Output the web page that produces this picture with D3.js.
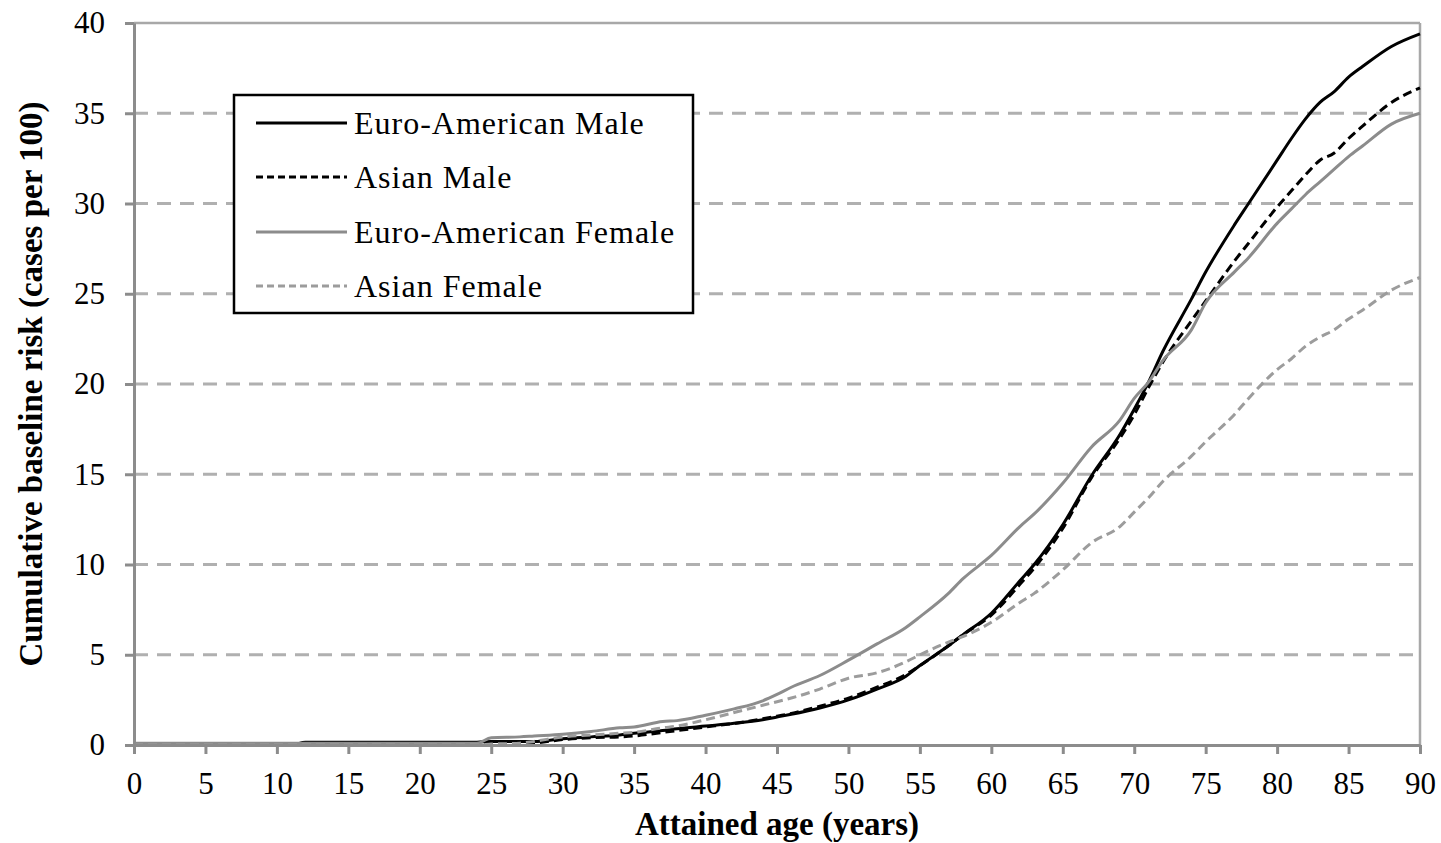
<!DOCTYPE html>
<html>
<head>
<meta charset="utf-8">
<script src="https://cdn.jsdelivr.net/npm/d3@7/dist/d3.min.js"></script>
<style>
  html, body { margin: 0; padding: 0; background: #fff; }
  svg { display: block; }
  text { font-family: "Liberation Serif", "Times New Roman", serif; fill: #000; }
</style>
</head>
<body>
<svg id="chart" width="1441" height="843"></svg>
<script>
// ---- Data ----
const ages = [0,5,10,11,12,15,20,24,25,27,28,30,32,34,35,37,38,40,42,44,45,46,48,50,52,54,55,57,58,60,62,63,65,67,69,70,71,72,74,75,77,78,80,81,82,83,84,85,86,88,90];

const euroAmericanMale = [0,0,0,0,0.15,0.15,0.15,0.15,0.2,0.2,0.2,0.35,0.45,0.55,0.65,0.8,0.9,1.05,1.2,1.4,1.55,1.7,2.05,2.5,3.1,3.8,4.4,5.5,6.1,7.3,9.1,10.0,12.2,14.9,17.2,18.6,20.1,21.8,24.7,26.2,28.8,30.0,32.4,33.6,34.7,35.6,36.2,37.0,37.6,38.7,39.4];

const asianMale = [0,0,0,0,0,0.05,0.05,0.05,0.05,0.05,0.1,0.3,0.4,0.45,0.5,0.7,0.8,1.0,1.2,1.45,1.6,1.75,2.15,2.6,3.2,3.9,4.4,5.5,6.1,7.2,8.9,9.8,12.0,14.8,17.0,18.3,19.8,21.2,23.5,24.6,26.8,27.8,29.8,30.7,31.6,32.4,32.8,33.6,34.3,35.6,36.4];

const euroAmericanFemale = [0.1,0.1,0.1,0.1,0.1,0.1,0.1,0.1,0.4,0.45,0.5,0.6,0.75,0.95,1.0,1.3,1.35,1.65,2.0,2.45,2.8,3.2,3.85,4.7,5.6,6.5,7.1,8.4,9.2,10.5,12.1,12.8,14.5,16.5,18.0,19.2,20.1,21.3,23.0,24.5,26.2,27.0,28.9,29.7,30.5,31.2,31.9,32.6,33.2,34.4,35.0];

const asianFemale = [0,0,0,0,0,0,0,0,0.05,0.1,0.2,0.45,0.55,0.65,0.7,0.95,1.05,1.4,1.8,2.2,2.4,2.6,3.1,3.7,4.0,4.6,5.0,5.7,6.0,6.8,7.9,8.4,9.7,11.2,12.1,12.9,13.7,14.6,16.0,16.8,18.3,19.2,20.8,21.4,22.1,22.6,23.0,23.6,24.1,25.2,25.9];

const xTicks = [0,5,10,15,20,25,30,35,40,45,50,55,60,65,70,75,80,85,90];
const yTicks = [0,5,10,15,20,25,30,35,40];

const seriesNames = ["Euro-American Male","Asian Male","Euro-American Female","Asian Female"];
const seriesValues = [euroAmericanMale, asianMale, euroAmericanFemale, asianFemale];
const seriesColors = ["#000000","#000000","#8c8c8c","#9c9c9c"];
const seriesDash = [null, "9,5", null, "9,5"];

const xTitle = "Attained age (years)";
const yTitle = "Cumulative baseline risk (cases per 100)";

// ---- Layout ----
const svg = d3.select("#chart");
const pL = 134, pR = 1420, pT = 23, pB = 745;

const x = d3.scaleLinear().domain([0, 90]).range([pL, pR]);
const y = d3.scaleLinear().domain([0, 40]).range([pB, pT]);

// gridlines
svg.append("g").selectAll("line")
  .data(yTicks.filter(t => t > 0 && t < 40))
  .join("line")
  .attr("x1", pL).attr("x2", pR)
  .attr("y1", d => y(d)).attr("y2", d => y(d))
  .attr("stroke", "#b0b0b0").attr("stroke-width", 3)
  .attr("stroke-dasharray", "14,9");

// top & right border
svg.append("line").attr("x1", pL).attr("x2", pR).attr("y1", y(40)).attr("y2", y(40))
  .attr("stroke", "#a8a8a8").attr("stroke-width", 2.5);
svg.append("line").attr("x1", pR).attr("x2", pR).attr("y1", pT).attr("y2", pB)
  .attr("stroke", "#a8a8a8").attr("stroke-width", 2.5);

// lines
const line = d3.line().curve(d3.curveMonotoneX).x((d, i) => x(ages[i])).y(d => y(d));
seriesValues.forEach((vals, k) => {
  svg.append("path")
    .datum(vals)
    .attr("d", line)
    .attr("fill", "none")
    .attr("stroke", seriesColors[k])
    .attr("stroke-width", 3)
    .attr("stroke-linejoin", "round")
    .attr("stroke-dasharray", seriesDash[k]);
});

// axes
const xAxis = d3.axisBottom(x).tickValues(xTicks).tickSize(9).tickSizeOuter(0).tickPadding(14);
const gx = svg.append("g").attr("transform", `translate(0,${pB})`).call(xAxis);
const yAxis = d3.axisLeft(y).tickValues(yTicks).tickSize(9).tickSizeOuter(0).tickPadding(20);
const gy = svg.append("g").attr("transform", `translate(${pL},0)`).call(yAxis);

[gx, gy].forEach(g => {
  g.select(".domain").attr("stroke", "#8c8c8c").attr("stroke-width", 3);
  g.selectAll(".tick line").attr("stroke", "#8c8c8c").attr("stroke-width", 3);
  g.selectAll(".tick text")
    .style("font-family", '"Liberation Serif", "Times New Roman", serif')
    .style("font-size", "31px").attr("fill", "#000");
});
gx.selectAll(".tick text").attr("dy", "0.85em");

// axis titles
svg.append("text")
  .attr("x", (pL + pR) / 2).attr("y", 835)
  .attr("text-anchor", "middle")
  .style("font-size", "33px").style("font-weight", "bold")
  .text(xTitle);

svg.append("text")
  .attr("transform", `translate(42,${(pT + pB) / 2}) rotate(-90)`)
  .attr("text-anchor", "middle")
  .style("font-size", "33px").style("font-weight", "bold")
  .text(yTitle);

// legend
const lg = svg.append("g");
lg.append("rect").attr("x", 234).attr("y", 95).attr("width", 459).attr("height", 218)
  .attr("fill", "#fff").attr("stroke", "#000").attr("stroke-width", 2.5);
const rowY = [123, 177, 232, 286];
seriesNames.forEach((name, k) => {
  lg.append("line").attr("x1", 256).attr("x2", 347)
    .attr("y1", rowY[k]).attr("y2", rowY[k])
    .attr("stroke", seriesColors[k]).attr("stroke-width", 3)
    .attr("stroke-dasharray", seriesDash[k] ? "7,4" : null);
  lg.append("text").attr("x", 354).attr("y", rowY[k] + 11)
    .style("font-size", "32px").style("letter-spacing", "1px")
    .text(name);
});
</script>
</body>
</html>
